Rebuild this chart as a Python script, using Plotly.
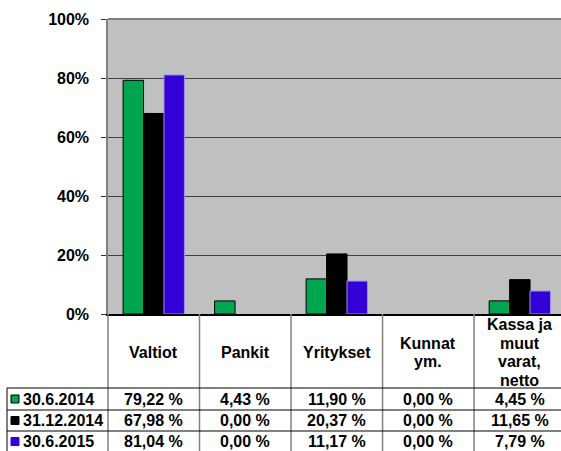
import plotly.graph_objects as go

categories = ["Valtiot", "Pankit", "Yritykset", "Kunnat ym.", "Kassa ja muut varat, netto"]
header_labels = ["Valtiot", "Pankit", "Yritykset", "Kunnat<br>ym.", "Kassa ja<br>muut<br>varat,<br>netto"]
series_names = ["30.6.2014", "31.12.2014", "30.6.2015"]
v_2014_06 = [79.22, 4.43, 11.90, 0.00, 4.45]
v_2014_12 = [67.98, 0.00, 20.37, 0.00, 11.65]
v_2015_06 = [81.04, 0.00, 11.17, 0.00, 7.79]
y_ticks = [0, 20, 40, 60, 80, 100]

series_values = [v_2014_06, v_2014_12, v_2015_06]
colors = ["#00A550", "#000000", "#3300D8"]
line_colors = ["#000000", "#000000", "#9C94E8"]

W, H = 561, 451
L, R, T, B = 108, 0, 19, 137
plot_w = W - L - R
plot_h = H - T - B
x_range = [-0.5, 4.45]
FONT = "Liberation Sans, Arial, sans-serif"

def px_x(px):
    return (px - L) / plot_w

def px_y(py):
    return (H - B - py) / plot_h

def cat_x(k):
    return (k - x_range[0]) / (x_range[1] - x_range[0])

fig = go.Figure()
for name, vals, c, lc in zip(series_names, series_values, colors, line_colors):
    fig.add_trace(go.Bar(
        x=list(range(len(categories))), y=vals, name=name,
        marker=dict(color=c, line=dict(color=lc, width=[1 if v > 0 else 0 for v in vals])),
        showlegend=False,
    ))

shapes = []
annotations = []
bottom = px_y(H + 2)
row_lines = [388, 410, 431]
row_centers = [399, 420.5, 441.5]

# column lines
for k in range(len(categories) + 1):
    xk = cat_x(k - 0.5)
    shapes.append(dict(type="line", xref="paper", yref="paper", x0=xk, x1=xk,
                       y0=0, y1=bottom, line=dict(color="#808080", width=1.5)))
# row lines
for ry in row_lines:
    shapes.append(dict(type="line", xref="paper", yref="paper", x0=px_x(7), x1=1.02,
                       y0=px_y(ry), y1=px_y(ry), line=dict(color="#000000", width=1)))
# left box edge
shapes.append(dict(type="line", xref="paper", yref="paper", x0=px_x(7), x1=px_x(7),
                   y0=px_y(row_lines[0]), y1=bottom, line=dict(color="#000000", width=1)))
# top border
shapes.append(dict(type="line", xref="paper", yref="paper", x0=0, x1=1.02,
                   y0=1, y1=1, line=dict(color="#7F7F7F", width=2)))

# header labels, one annotation per text line for Excel-like line spacing
header_center, line_step = 352.5, 18.8
for k, lab in enumerate(header_labels):
    parts = lab.split("<br>")
    n = len(parts)
    for j, part in enumerate(parts):
        cy = header_center + (j - (n - 1) / 2) * line_step
        annotations.append(dict(xref="paper", yref="paper", x=cat_x(k), y=px_y(cy),
                                text="<b>" + part + "</b>", showarrow=False,
                                xanchor="center", yanchor="middle",
                                font=dict(family=FONT, size=16, color="#000000")))

# series rows
for i, (name, vals, c, lc) in enumerate(zip(series_names, series_values, colors, line_colors)):
    cy = row_centers[i]
    shapes.append(dict(type="rect", xref="paper", yref="paper",
                       x0=px_x(11), x1=px_x(19), y0=px_y(cy - 4), y1=px_y(cy + 4),
                       fillcolor=c, line=dict(color="#000000" if i < 2 else c, width=1)))
    annotations.append(dict(xref="paper", yref="paper", x=px_x(21), y=px_y(cy),
                            text="<b>" + name + "</b>", showarrow=False,
                            xanchor="left", yanchor="middle",
                            font=dict(family=FONT, size=16, color="#000000")))
    for k, v in enumerate(vals):
        txt = ("%.2f" % v).replace(".", ",") + " %"
        annotations.append(dict(xref="paper", yref="paper", x=cat_x(k), y=px_y(cy),
                                text="<b>" + txt + "</b>", showarrow=False,
                                xanchor="center", yanchor="middle",
                                font=dict(family=FONT, size=16, color="#000000")))

fig.update_layout(
    width=W, height=H,
    margin=dict(l=L, r=R, t=T, b=B, pad=0),
    paper_bgcolor="#FFFFFF", plot_bgcolor="#C0C0C0",
    barmode="group", bargap=0.33, bargroupgap=0,
    shapes=shapes, annotations=annotations,
    xaxis=dict(range=x_range, showticklabels=False, showgrid=False, zeroline=False,
               showline=True, linecolor="#000000", linewidth=1.5, ticks="",
               fixedrange=True),
    yaxis=dict(range=[0, 100], tickmode="array", tickvals=y_ticks,
               ticktext=["%d%%" % t for t in y_ticks],
               showgrid=True, gridcolor="#404040", gridwidth=1.2, zeroline=False,
               showline=True, linecolor="#808080", linewidth=1.5,
               ticks="outside", ticklen=5, tickcolor="#333333", tickwidth=1,
               ticklabelstandoff=9,
               tickfont=dict(family=FONT, size=16, color="#000000", weight="bold"),
               fixedrange=True),
    font=dict(family=FONT),
)

fig.write_html("out.html", config={"displayModeBar": False},
               post_script="document.body.style.margin='0';document.body.style.overflow='hidden';")
